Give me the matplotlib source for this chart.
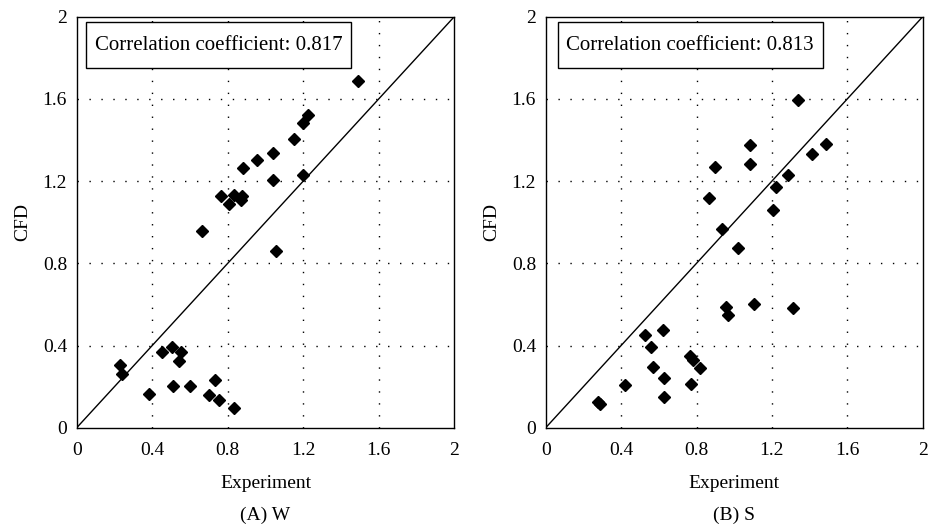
import matplotlib
matplotlib.use("Agg")
import matplotlib.pyplot as plt
from matplotlib.patches import Rectangle

plt.rcParams["font.family"] = ["Liberation Serif", "DejaVu Serif"]

# Panel (A) W: experiment vs CFD
w_exp = [1.492, 1.227, 1.200, 1.151, 1.038, 0.955, 0.883, 1.038, 1.200, 0.766,
         0.835, 0.808, 0.868, 0.877, 0.664, 1.056, 0.228, 0.240, 0.454, 0.503,
         0.553, 0.542, 0.383, 0.512, 0.598, 0.733, 0.701, 0.752, 0.835]
w_cfd = [1.687, 1.521, 1.484, 1.403, 1.338, 1.301, 1.262, 1.204, 1.230, 1.126,
         1.132, 1.087, 1.108, 1.129, 0.957, 0.861, 0.303, 0.260, 0.367, 0.393,
         0.370, 0.324, 0.164, 0.204, 0.204, 0.234, 0.161, 0.136, 0.094]

# Panel (B) S: experiment vs CFD
s_exp = [1.340, 1.086, 1.487, 1.413, 1.086, 0.898, 1.287, 1.220, 0.868, 1.206,
         0.937, 1.022, 1.103, 1.310, 0.957, 0.967, 0.527, 0.622, 0.561, 0.764,
         0.780, 0.821, 0.571, 0.628, 0.423, 0.773, 0.630, 0.278, 0.290]
s_cfd = [1.596, 1.375, 1.379, 1.332, 1.285, 1.268, 1.231, 1.173, 1.118, 1.059,
         0.967, 0.873, 0.603, 0.582, 0.587, 0.550, 0.451, 0.477, 0.394, 0.347,
         0.331, 0.290, 0.295, 0.240, 0.206, 0.214, 0.151, 0.126, 0.114]

correlations = ["0.817", "0.813"]
subtitles = ["(A) W", "(B) S"]
tick_vals = [0, 0.4, 0.8, 1.2, 1.6, 2]
tick_labels = ["0", "0.4", "0.8", "1.2", "1.6", "2"]

fig = plt.figure(figsize=(9.3, 5.27), dpi=100)
positions = [[0.0825, 0.1884, 0.406, 0.780], [0.5868, 0.1884, 0.4054, 0.780]]
boxes = [(0.025, 0.726), (0.032, 0.735)]
datasets = [(w_exp, w_cfd), (s_exp, s_cfd)]

for pos, (xs, ys), corr, sub, (bx0, bx1) in zip(positions, datasets, correlations,
                                                 subtitles, boxes):
    ax = fig.add_axes(pos)
    ax.set_xlim(0, 2)
    ax.set_ylim(0, 2)
    ax.set_xticks(tick_vals)
    ax.set_xticklabels(tick_labels)
    ax.set_yticks(tick_vals)
    ax.set_yticklabels(tick_labels)
    ax.tick_params(length=0, labelsize=14)
    ax.tick_params(axis="x", pad=10)
    ax.tick_params(axis="y", pad=7)
    for v in tick_vals[1:-1]:
        ax.axvline(v, color="black", lw=1.0, dashes=(1, 7.6), zorder=1)
        ax.axhline(v, color="black", lw=1.0, dashes=(1, 7.6), zorder=1)
    ax.plot([0, 2], [0, 2], color="black", lw=1.0, zorder=2)
    ax.plot(xs, ys, linestyle="none", marker="D", markersize=5.8,
            color="black", zorder=3)
    for sp in ax.spines.values():
        sp.set_linewidth(1.0)
    ax.set_xlabel("Experiment", fontsize=14, labelpad=12)
    ax.set_ylabel("CFD", fontsize=14, labelpad=8)
    ax.add_patch(Rectangle((bx0, 0.875), bx1 - bx0, 0.112, transform=ax.transAxes,
                           facecolor="white", edgecolor="black", lw=1.0, zorder=4))
    ax.text((bx0 + bx1) / 2, 0.931, "Correlation coefficient: " + corr,
            transform=ax.transAxes, ha="center", va="center", fontsize=15, zorder=5)
    ax.text(0.5, -0.213, sub, transform=ax.transAxes, ha="center", va="center",
            fontsize=14)

fig.savefig("out.png", dpi=100)
